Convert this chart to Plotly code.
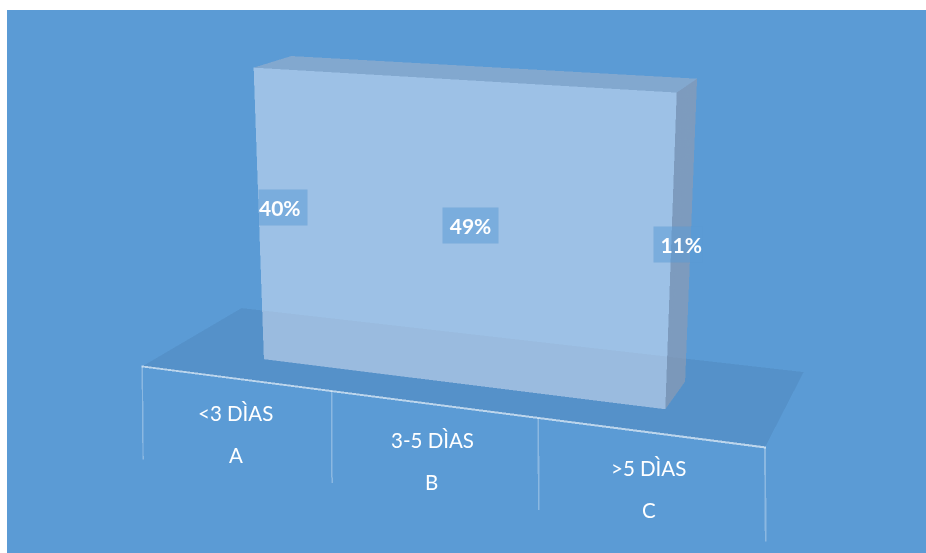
import plotly.graph_objects as go

# Time-to-event shares by bucket
categories = ["<3 DÌAS", "3-5 DÌAS", ">5 DÌAS"]
letters = ["A", "B", "C"]
shares = [40, 49, 11]
share_labels = [f"{s}%" for s in shares]

positions = list(range(len(categories)))
total = sum(shares)
tick_edges = [-0.5, 0.5, 1.5, 2.5]
drop_depths = [-34, -32.1, -30.8, -29.9]

# Depth band of the solid along the scene's y axis
depth_front, depth_back = 0.2942, 0.6813

# Axis ranges leave room around the geometry so nothing touches the clip bounds
X_RANGE = [-1, 3]
Y_RANGE = [-0.1, 1.1]
Z_RANGE = [-35, 110]

PAGE_H = 1359      # tall page gives the scene its narrow field of view
PAGE_SHIFT = 403   # the part of the page scrolled above the window
BG = "#5b9bd5"

# Proportions of the scene box and camera
depth_ratio, height_ratio = 0.3403, 0.4757
z_offset = (50 - sum(Z_RANGE) / 2) / 100 * height_ratio


def face(name, xs, ys, zs, color, opacity):
    return go.Mesh3d(
        name=name, x=xs, y=ys, z=zs,
        i=[0, 0], j=[1, 2], k=[2, 3],
        color=color, opacity=opacity, flatshading=True,
        lighting=dict(ambient=1, diffuse=0, specular=0, fresnel=0, roughness=1),
        hoverinfo="skip", showscale=False,
    )


x0, x1 = positions[0], positions[-1]
traces = [
    face("floor", [tick_edges[0], tick_edges[-1], tick_edges[-1], tick_edges[0]],
         [0, 0, 1, 1], [0, 0, 0, 0], "#3f6f9f", 0.22),
    face("top", [x0, x1, x1, x0], [depth_front, depth_front, depth_back, depth_back],
         [total] * 4, "#9cb0cb", 0.6),
    face("side", [x1, x1, x1, x1], [depth_front, depth_back, depth_back, depth_front],
         [0, 0, total, total], "#8c9bb4", 0.7),
    face("front", [x0, x1, x1, x0], [depth_front] * 4,
         [0, 0, total, total], "#eeeffb", 0.45),
]

# Category drops and axis baseline, as thin strips so their width and opacity hold
DROP_HALF = 0.0038
for t, d in zip(tick_edges, drop_depths):
    low = t + (t - 1) * 0.0167   # splay keeps the drops upright on screen
    traces.append(face("drop", [t - DROP_HALF, t + DROP_HALF, low + DROP_HALF, low - DROP_HALF],
                       [0, 0, 0, 0], [0, 0, d, d], "#ffffff", 0.3))
EDGE_HALF = 0.33
traces.append(face("baseline",
                   [tick_edges[0] - DROP_HALF, tick_edges[-1] + DROP_HALF,
                    tick_edges[-1] + DROP_HALF, tick_edges[0] - DROP_HALF],
                   [0, 0, 0, 0], [-EDGE_HALF, -EDGE_HALF, EDGE_HALF, EDGE_HALF], "#ffffff", 0.6))

annotations = []
name_shift = [(-1, -3), (0, -3), (1, -2)]
letter_shift = [(-2, -9), (-1, -7), (3, -4)]
for p, cat, letter, ns, ls in zip(positions, categories, letters, name_shift, letter_shift):
    for text, z, (dx, dy) in ((cat, -11, ns), (letter, -24, ls)):
        annotations.append(dict(
            x=p, y=0, z=z, text=text, showarrow=False, xshift=dx, yshift=dy,
            font=dict(family="Lato", size=20.5, color="white")))

label_x_shift = [5, 0, -3]
label_width = [48, 55, 48]
label_align = ["left", "center", "right"]
for p, label, dx, w, a in zip(positions, share_labels, label_x_shift, label_width, label_align):
    annotations.append(dict(
        x=p, y=(depth_front + depth_back) / 2, z=total / 2, text=f"<b>{label}</b>",
        showarrow=False, xshift=dx, width=w, height=35, align=a, borderpad=0,
        bgcolor="rgba(91,155,213,0.53)",
        font=dict(family="Lato", size=21, color="white")))

hidden = dict(visible=False, showgrid=False, zeroline=False, showticklabels=False,
              showbackground=False, showspikes=False, title="")

fig = go.Figure(traces)
fig.update_layout(
    width=926, height=PAGE_H, margin=dict(l=0, r=0, t=0, b=0),
    paper_bgcolor="white", showlegend=False, hovermode=False,
    shapes=[dict(type="rect", xref="paper", yref="paper", layer="below",
                 x0=7 / 926, x1=1, y0=0, y1=1 - (10 + PAGE_SHIFT) / PAGE_H,
                 fillcolor=BG, line_width=0)],
    scene=dict(
        domain=dict(x=[0, 1], y=[0, 1]),
        bgcolor="rgba(0,0,0,0)",
        aspectmode="manual",
        aspectratio=dict(
            x=(X_RANGE[1] - X_RANGE[0]) / (tick_edges[-1] - tick_edges[0]),
            y=depth_ratio * (Y_RANGE[1] - Y_RANGE[0]),
            z=height_ratio * (Z_RANGE[1] - Z_RANGE[0]) / 100,
        ),
        xaxis=dict(hidden, range=X_RANGE),
        yaxis=dict(hidden, range=Y_RANGE),
        zaxis=dict(hidden, range=Z_RANGE),
        camera=dict(
            eye=dict(x=0.8466, y=-2.3292, z=0.624 + z_offset),
            center=dict(x=0.0317, y=-0.1238, z=-0.0475 + z_offset),
            up=dict(x=0.0092, y=-0.0202, z=1),
            projection=dict(type="perspective"),
        ),
        annotations=annotations,
    ),
)

# Slide the tall page up so the scene's optical centre lands mid-window
slide = (
    "var gd=document.getElementById('{plot_id}');"
    f"gd.style.position='absolute';gd.style.top='-{PAGE_SHIFT}px';gd.style.left='0';"
    "document.documentElement.style.overflow='hidden';document.body.style.overflow='hidden';"
)
fig.write_html("out.html", post_script=slide, config=dict(displayModeBar=False))
